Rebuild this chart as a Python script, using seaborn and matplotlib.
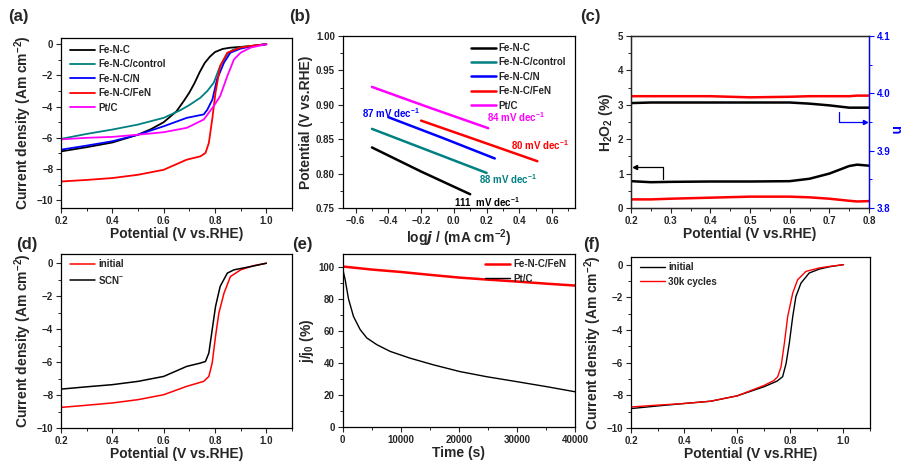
import numpy as np
import pandas as pd
import matplotlib
matplotlib.use("Agg")
import matplotlib.pyplot as plt
from matplotlib.ticker import MultipleLocator
import seaborn as sns

# ---- (a) LSV curves ----
lsv_x = [0.2, 0.3, 0.4, 0.5, 0.55, 0.6, 0.65, 0.68, 0.7, 0.72, 0.74, 0.76, 0.78, 0.8, 0.83, 0.86, 0.9, 0.95, 1.0]
lsv_fenc = [-6.87, -6.6, -6.3, -5.8, -5.45, -5.0, -4.3, -3.6, -3.1, -2.5, -1.8, -1.2, -0.8, -0.5, -0.3, -0.22, -0.17, -0.1, 0.0]
ctrl_x = [0.2, 0.3, 0.4, 0.5, 0.6, 0.665, 0.7, 0.743, 0.77, 0.795, 0.82, 0.848, 0.87, 0.9, 0.95, 1.0]
lsv_ctrl = [-6.07, -5.75, -5.47, -5.15, -4.72, -4.23, -3.9, -3.43, -3.0, -2.47, -1.4, -0.64, -0.35, -0.21, -0.1, 0.0]
n_x = [0.2, 0.3, 0.4, 0.5, 0.6, 0.69, 0.756, 0.77, 0.79, 0.808, 0.835, 0.86, 0.9, 0.965, 1.0]
lsv_n = [-6.76, -6.5, -6.22, -5.8, -5.26, -4.72, -4.5, -4.2, -3.54, -2.25, -1.18, -0.54, -0.28, -0.06, 0.0]
fen_x = [0.2, 0.3, 0.4, 0.5, 0.6, 0.69, 0.743, 0.763, 0.776, 0.789, 0.802, 0.82, 0.848, 0.9, 0.95, 1.0]
lsv_fen = [-8.8, -8.7, -8.58, -8.37, -8.05, -7.4, -7.19, -6.97, -6.33, -4.83, -3.11, -1.4, -0.54, -0.21, -0.08, 0.0]
pt_x = [0.2, 0.3, 0.4, 0.5, 0.6, 0.69, 0.756, 0.795, 0.82, 0.848, 0.874, 0.9, 0.94, 1.0]
lsv_pt = [-6.1, -6.0, -5.94, -5.8, -5.64, -5.36, -4.83, -3.97, -3.33, -2.04, -0.97, -0.54, -0.21, 0.0]

# ---- (b) Tafel lines ----
tafel_names = ["Fe-N-C", "Fe-N-C/control", "Fe-N-C/N", "Fe-N-C/FeN", "Pt/C"]
tafel_x = [[-0.5, -0.2, 0.1], [-0.5, -0.15, 0.2], [-0.4, -0.07, 0.25], [-0.2, 0.15, 0.51], [-0.5, -0.15, 0.21]]
tafel_y = [[0.838, 0.803, 0.770], [0.865, 0.833, 0.801], [0.882, 0.852, 0.822], [0.877, 0.848, 0.818], [0.926, 0.896, 0.866]]
slopes = ["111  mV dec$^{-1}$", "88 mV dec$^{-1}$", "87 mV dec$^{-1}$", "80 mV dec$^{-1}$", "84 mV dec$^{-1}$"]
slope_pos = [(0.0, 0.758), (0.155, 0.792), (-0.56, 0.888), (0.35, 0.841), (0.2, 0.882)]

# ---- (c) RRDE ----
rrde_x = [0.2, 0.25, 0.3, 0.4, 0.5, 0.6, 0.65, 0.7, 0.75, 0.77, 0.8]
h2o2_fenc = [0.78, 0.75, 0.76, 0.77, 0.77, 0.78, 0.85, 1.0, 1.22, 1.26, 1.23]
h2o2_fen = [0.25, 0.25, 0.27, 0.30, 0.33, 0.33, 0.31, 0.27, 0.21, 0.19, 0.2]
n_fenc = [3.983, 3.984, 3.984, 3.984, 3.984, 3.984, 3.982, 3.979, 3.975, 3.975, 3.975]
n_fen = [3.995, 3.995, 3.995, 3.995, 3.993, 3.994, 3.995, 3.995, 3.995, 3.996, 3.996]

# ---- (d) SCN- poisoning ----
d_x_init = [0.2, 0.3, 0.4, 0.5, 0.6, 0.69, 0.756, 0.776, 0.789, 0.802, 0.815, 0.835, 0.86, 0.9, 0.95, 1.0]
d_init = [-8.75, -8.62, -8.48, -8.28, -7.98, -7.47, -7.17, -6.87, -6.06, -4.44, -3.03, -1.82, -0.81, -0.4, -0.15, 0.0]
d_x_scn = [0.2, 0.3, 0.4, 0.5, 0.6, 0.69, 0.743, 0.763, 0.776, 0.789, 0.802, 0.82, 0.848, 0.874, 0.94, 1.0]
d_scn = [-7.64, -7.5, -7.37, -7.17, -6.87, -6.26, -6.06, -5.96, -5.45, -4.04, -2.63, -1.41, -0.6, -0.4, -0.2, 0.0]

# ---- (e) chronoamperometry ----
t_fen = [0, 5000, 10000, 15000, 20000, 25000, 30000, 35000, 40000]
j_fen = [100.2, 98.3, 96.8, 95.0, 93.3, 92.0, 90.8, 89.5, 88.3]
t_pt = [0, 200, 458, 1030, 1890, 3040, 4180, 5900, 8200, 11600, 15650, 20200, 24800, 30000, 35100, 40000]
j_pt = [100, 96, 92, 80, 69, 60.8, 55.6, 51.4, 47.2, 43, 38.8, 34.6, 31.4, 28.3, 25.2, 22]

# ---- (f) durability ----
f_x_init = [0.2, 0.3, 0.4, 0.5, 0.6, 0.7, 0.75, 0.771, 0.784, 0.796, 0.809, 0.821, 0.84, 0.871, 0.909, 0.95, 1.0]
f_init = [-8.81, -8.65, -8.5, -8.36, -8.03, -7.48, -7.13, -6.86, -6.05, -4.82, -3.18, -1.95, -1.13, -0.51, -0.27, -0.12, 0.0]
f_x_30k = [0.2, 0.3, 0.4, 0.5, 0.6, 0.7, 0.7375, 0.7525, 0.765, 0.7775, 0.79, 0.809, 0.8275, 0.859, 0.909, 0.95, 1.0]
f_30k = [-8.71, -8.6, -8.5, -8.36, -8.03, -7.4, -7.1, -6.86, -6.25, -4.82, -3.18, -1.74, -0.92, -0.41, -0.2, -0.1, 0.0]

sns.set_style("ticks")
plt.rcParams["font.family"] = ["Liberation Sans", "DejaVu Sans"]
plt.rcParams["font.weight"] = "bold"
plt.rcParams["axes.labelweight"] = "bold"
plt.rcParams["mathtext.default"] = "regular"
plt.rcParams["xtick.labelsize"] = 7
plt.rcParams["ytick.labelsize"] = 7
plt.rcParams["axes.linewidth"] = 0.9
plt.rcParams["xtick.direction"] = "out"
plt.rcParams["ytick.direction"] = "out"

W, H = 921, 469
fig = plt.figure(figsize=(W / 100, H / 100), dpi=100)


def box(l, b, w, h):
    return fig.add_axes([l / W, 1 - b / H, w / W, h / H])


def style(ax, xmaj, xmin, ymaj, ymin):
    ax.xaxis.set_major_locator(MultipleLocator(xmaj))
    ax.xaxis.set_minor_locator(MultipleLocator(xmin))
    ax.yaxis.set_major_locator(MultipleLocator(ymaj))
    ax.yaxis.set_minor_locator(MultipleLocator(ymin))
    ax.tick_params(which="major", length=3.5, width=0.8, pad=2)
    ax.tick_params(which="minor", length=2, width=0.7)
    for s in ax.spines.values():
        s.set_visible(True)
        s.set_color("black")


leg_kw = dict(frameon=False, handlelength=2.6, handletextpad=0.3, labelspacing=0.45,
              prop={"weight": "bold", "size": 7})
pot_label = "Potential (V vs.RHE)"
cd_label = "Current density (Am cm$^{-2}$)"

# (a)
ax = box(61, 208, 231, 170)
for xs, ys, c, lab in [(lsv_x, lsv_fenc, "black", "Fe-N-C"), (ctrl_x, lsv_ctrl, "#008080", "Fe-N-C/control"),
                       (n_x, lsv_n, "blue", "Fe-N-C/N"), (fen_x, lsv_fen, "red", "Fe-N-C/FeN"),
                       (pt_x, lsv_pt, "magenta", "Pt/C")]:
    sns.lineplot(x=xs, y=ys, color=c, lw=1.3, label=lab, ax=ax)
ax.set_xlim(0.2, 1.1)
ax.set_ylim(-10.5, 0.4)
style(ax, 0.2, 0.1, 2, 1)
ax.set_xlabel(pot_label, fontsize=10, labelpad=1)
ax.set_ylabel(cd_label, fontsize=10, labelpad=2)
ax.legend(loc="upper left", bbox_to_anchor=(0.0, 1.01), **leg_kw)

# (b)
ax = box(342.5, 208, 232.5, 172)
colors_b = ["black", "#008080", "blue", "red", "magenta"]
for xs, ys, c, lab in zip(tafel_x, tafel_y, colors_b, tafel_names):
    sns.lineplot(x=xs, y=ys, color=c, lw=1.8, label=lab, ax=ax)
for txt, (tx, ty), c in zip(slopes, slope_pos, colors_b):
    ax.text(tx, ty, txt, color=c, fontsize=7, fontweight="bold", va="center")
ax.set_xlim(-0.68, 0.74)
ax.set_ylim(0.75, 1.0)
style(ax, 0.2, 0.1, 0.05, 0.025)
ax.set_xlabel("log$\\mathit{j}$ / (mA cm$^{-2}$)", fontsize=10, labelpad=1)
ax.set_ylabel(pot_label, fontsize=10, labelpad=2)
ax.legend(loc="upper right", bbox_to_anchor=(1.0, 1.01), **leg_kw)

# (c)
ax = box(631, 208, 238, 172)
sns.lineplot(x=rrde_x, y=h2o2_fenc, color="black", lw=1.8, ax=ax)
sns.lineplot(x=rrde_x, y=h2o2_fen, color="red", lw=1.8, ax=ax)
ax.set_xlim(0.2, 0.8)
ax.set_ylim(0, 5)
style(ax, 0.1, 0.05, 1, 0.5)
ax.set_xlabel(pot_label, fontsize=10, labelpad=1)
ax.set_ylabel("H$_2$O$_2$ (%)", fontsize=10, labelpad=2)
ax.plot([0.28, 0.28, 0.207], [0.83, 1.18, 1.18], color="black", lw=0.9)
ax.plot(0.21, 1.18, marker="<", color="black", ms=3)
ax2 = ax.twinx()
sns.lineplot(x=rrde_x, y=n_fenc, color="black", lw=1.8, ax=ax2)
sns.lineplot(x=rrde_x, y=n_fen, color="red", lw=1.8, ax=ax2)
ax2.set_ylim(3.8, 4.1)
ax2.yaxis.set_major_locator(MultipleLocator(0.1))
ax2.yaxis.set_minor_locator(MultipleLocator(0.05))
ax2.tick_params(axis="y", which="major", length=3.5, width=0.8, pad=2, colors="blue")
ax2.tick_params(axis="y", which="minor", length=2, width=0.7, colors="blue")
ax2.spines["right"].set_color("blue")
ax2.spines["right"].set_visible(True)
ax2.set_ylabel("")
ax2.text(1.11, 0.45, "n", color="blue", fontsize=10, fontweight="bold", rotation=270,
         ha="center", va="center", transform=ax2.transAxes)
ax.plot([0.724, 0.724, 0.793], [2.8, 2.49, 2.49], color="blue", lw=0.9)
ax.plot(0.79, 2.49, marker=">", color="blue", ms=3)

# (d)
ax = box(61, 428, 231, 174)
sns.lineplot(x=d_x_init, y=d_init, color="red", lw=1.1, label="initial", ax=ax)
sns.lineplot(x=d_x_scn, y=d_scn, color="black", lw=1.1, label="SCN$^{-}$", ax=ax)
ax.set_xlim(0.2, 1.1)
ax.set_ylim(-10, 0.56)
style(ax, 0.2, 0.1, 2, 1)
ax.set_xlabel(pot_label, fontsize=10, labelpad=1)
ax.set_ylabel(cd_label, fontsize=10, labelpad=2)
ax.legend(loc="upper left", bbox_to_anchor=(0.0, 1.02), **leg_kw)

# (e)
ax = box(342.5, 427, 232.5, 173)
sns.lineplot(x=t_fen, y=j_fen, color="red", lw=1.8, label="Fe-N-C/FeN", ax=ax)
sns.lineplot(x=t_pt, y=j_pt, color="black", lw=1.0, label="Pt/C", ax=ax)
ax.set_xlim(0, 40000)
ax.set_ylim(0, 108)
style(ax, 10000, 5000, 20, 10)
ax.set_xlabel("Time (s)", fontsize=10, labelpad=1)
ax.set_ylabel("j/j$_0$ (%)", fontsize=10, labelpad=2)
ax.legend(loc="upper right", bbox_to_anchor=(1.0, 1.02), **leg_kw)

# (f)
ax = box(631, 428, 239, 171)
sns.lineplot(x=f_x_init, y=f_init, color="black", lw=1.0, label="initial", ax=ax)
sns.lineplot(x=f_x_30k, y=f_30k, color="red", lw=1.0, label="30k cycles", ax=ax)
ax.set_xlim(0.2, 1.1)
ax.set_ylim(-10, 0.47)
style(ax, 0.2, 0.1, 2, 1)
ax.set_xlabel(pot_label, fontsize=10, labelpad=1)
ax.set_ylabel(cd_label, fontsize=10, labelpad=2)
ax.legend(loc="upper left", bbox_to_anchor=(0.0, 1.02), **leg_kw)

for lab, x, y in [("(a)", 8, 16), ("(b)", 289, 16), ("(c)", 580, 16),
                  ("(d)", 16, 244), ("(e)", 292, 244), ("(f)", 583, 244)]:
    fig.text(x / W, 1 - y / H, lab, fontsize=12, fontweight="bold", va="center", ha="left")

fig.savefig("out.png", dpi=100)
